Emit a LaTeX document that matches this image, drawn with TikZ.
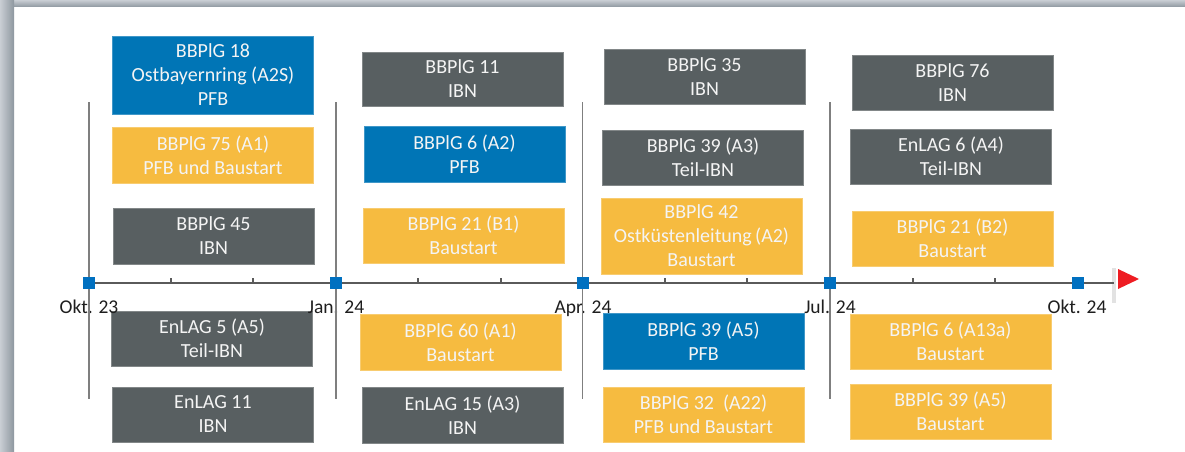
\documentclass[tikz,border=0pt]{standalone}
\usepackage{fontspec}
\setmainfont{Carlito}
\definecolor{cblue}{HTML}{0075B6}
\definecolor{cyellow}{HTML}{F6BB40}
\definecolor{cgray}{HTML}{585F61}
\definecolor{cmarker}{HTML}{0070C0}
\definecolor{boxtext}{HTML}{F4F4F4}
\definecolor{ctext}{HTML}{1E1E1E}
\definecolor{caxis}{HTML}{5A5A5A}
\definecolor{cvline}{HTML}{7F7F7F}
\definecolor{cred}{HTML}{EE1C22}
\definecolor{cbar}{HTML}{E2E2E2}
\definecolor{frameout}{HTML}{C9CED4}
\definecolor{framein}{HTML}{8E979F}
\begin{document}
\begin{tikzpicture}[x=1pt,y=-1pt,
  bx/.style={minimum width=201pt, minimum height=55pt, inner sep=0pt, align=center,
    text=boxtext, font=\fontsize{20}{24}\selectfont, fill=#1, draw=#1!75!white, line width=0.6pt},
  bluebox/.style={bx=cblue},
  yelbox/.style={bx=cyellow},
  graybox/.style={bx=cgray},
  datelabel/.style={font=\fontsize{19.5}{22}\selectfont, text=ctext, anchor=base, inner sep=0pt},
  marker/.style={fill=cmarker, minimum size=12.5pt, inner sep=0pt},
  vline/.style={draw=cvline, line width=1.8pt},
  axisline/.style={draw=caxis, line width=1.5pt},
  tickline/.style={draw=caxis, line width=1.2pt},
]
\useasboundingbox (0,0) rectangle (1185,452);
\fill[white] (0,0) rectangle (1185,452);
% frame shadow
\shade[top color=frameout, bottom color=framein] (0,0) rectangle (1185,7);
\shade[left color=frameout, right color=framein] (0,0) rectangle (14,452);

% column 1
\node[bluebox, minimum height=78pt] (n18) at (213,75) {BBPlG 18\\Ostbayernring (A2S)\\PFB};
\node[yelbox, minimum height=56pt] (n75) at (213,155) {BBPlG 75 (A1)\\PFB und Baustart};
\node[graybox, minimum height=56pt] (n45) at (213.5,236) {BBPlG 45\\IBN};
\node[graybox] (e5) at (212,338.5) {EnLAG 5 (A5)\\Teil-IBN};
\node[graybox] (e11) at (213,414.5) {EnLAG 11\\IBN};
% column 2
\node[graybox, minimum height=54pt] (n11) at (462.5,79) {BBPlG 11\\IBN};
\node[bluebox, minimum height=56pt] (n6) at (464.5,154) {BBPlG 6 (A2)\\PFB};
\node[yelbox] (n21) at (463.5,235.5) {BBPlG 21 (B1)\\Baustart};
\node[yelbox, minimum height=56pt] (n60) at (460.5,342) {BBPlG 60 (A1)\\Baustart};
\node[graybox, minimum height=56pt] (e15) at (462.5,415) {EnLAG 15 (A3)\\IBN};
% column 3
\node[graybox] (n35) at (704.5,76.5) {BBPlG 35\\IBN};
\node[graybox] (n39a3) at (703,157.5) {BBPlG 39 (A3)\\Teil-IBN};
\node[yelbox, minimum height=76pt] (n42) at (701.5,236) {BBPlG 42\\Ostküstenleitung\,(A2)\\Baustart};
\node[bluebox, minimum height=56pt] (n39a5) at (703.5,341) {BBPlG 39 (A5)\\PFB};
\node[yelbox] (n32) at (703.5,414.5) {BBPlG 32\ \ (A22)\\PFB und Baustart};
% column 4
\node[graybox] (n76) at (952.5,82.5) {BBPlG 76\\IBN};
\node[graybox] (e6) at (951,156.5) {EnLAG 6 (A4)\\Teil-IBN};
\node[yelbox] (n21b2) at (952.5,238.5) {BBPlG 21 (B2)\\Baustart};
\node[yelbox] (n6a13) at (950.5,341.5) {BBPlG 6 (A13a)\\Baustart};
\node[yelbox] (n39a5b) at (950.5,411.5) {BBPlG 39 (A5)\\Baustart};

% date labels
\node[datelabel] (l1) at (89,313) {Okt. 23};
\node[datelabel] (l2) at (336,313) {Jan. 24};
\node[datelabel] (l3) at (583,313) {Apr. 24};
\node[datelabel] (l4) at (830,313) {Jul. 24};
\node[datelabel] (l5) at (1077,313) {Okt. 24};

% vertical lines
\foreach \i/\x in {1/89,2/336,3/582.5,4/830}{
  \coordinate (vt\i) at (\x,102);
  \coordinate (vb\i) at (\x,399);
  \draw[vline] (vt\i) -- (vb\i);
}

% end bar and arrow
\fill[cbar] (1112,268) rectangle (1116,303);
\coordinate (axend) at (1114,283);
\coordinate (tipa) at (1118,269);
\coordinate (tipb) at (1118,289);
\coordinate (tipc) at (1139,279);
\fill[cred] (tipa) -- (tipc) -- (tipb) -- cycle;

% axis
\node[marker] (m1) at (89,283) {};
\node[marker] (m2) at (336,283) {};
\node[marker] (m3) at (583,283) {};
\node[marker] (m4) at (830,283) {};
\node[marker] (m5) at (1078,283) {};
\draw[axisline] (m1.east) -- (m2.west);
\draw[axisline] (m2.east) -- (m3.west);
\draw[axisline] (m3.east) -- (m4.west);
\draw[axisline] (m4.east) -- (m5.west);
\draw[axisline] (m5.east) -- (axend);
\foreach \x in {171,253,418,501,665,747,913,995}{
  \draw[tickline] (\x,283) -- (\x,277.5);
}
\end{tikzpicture}
\end{document}
